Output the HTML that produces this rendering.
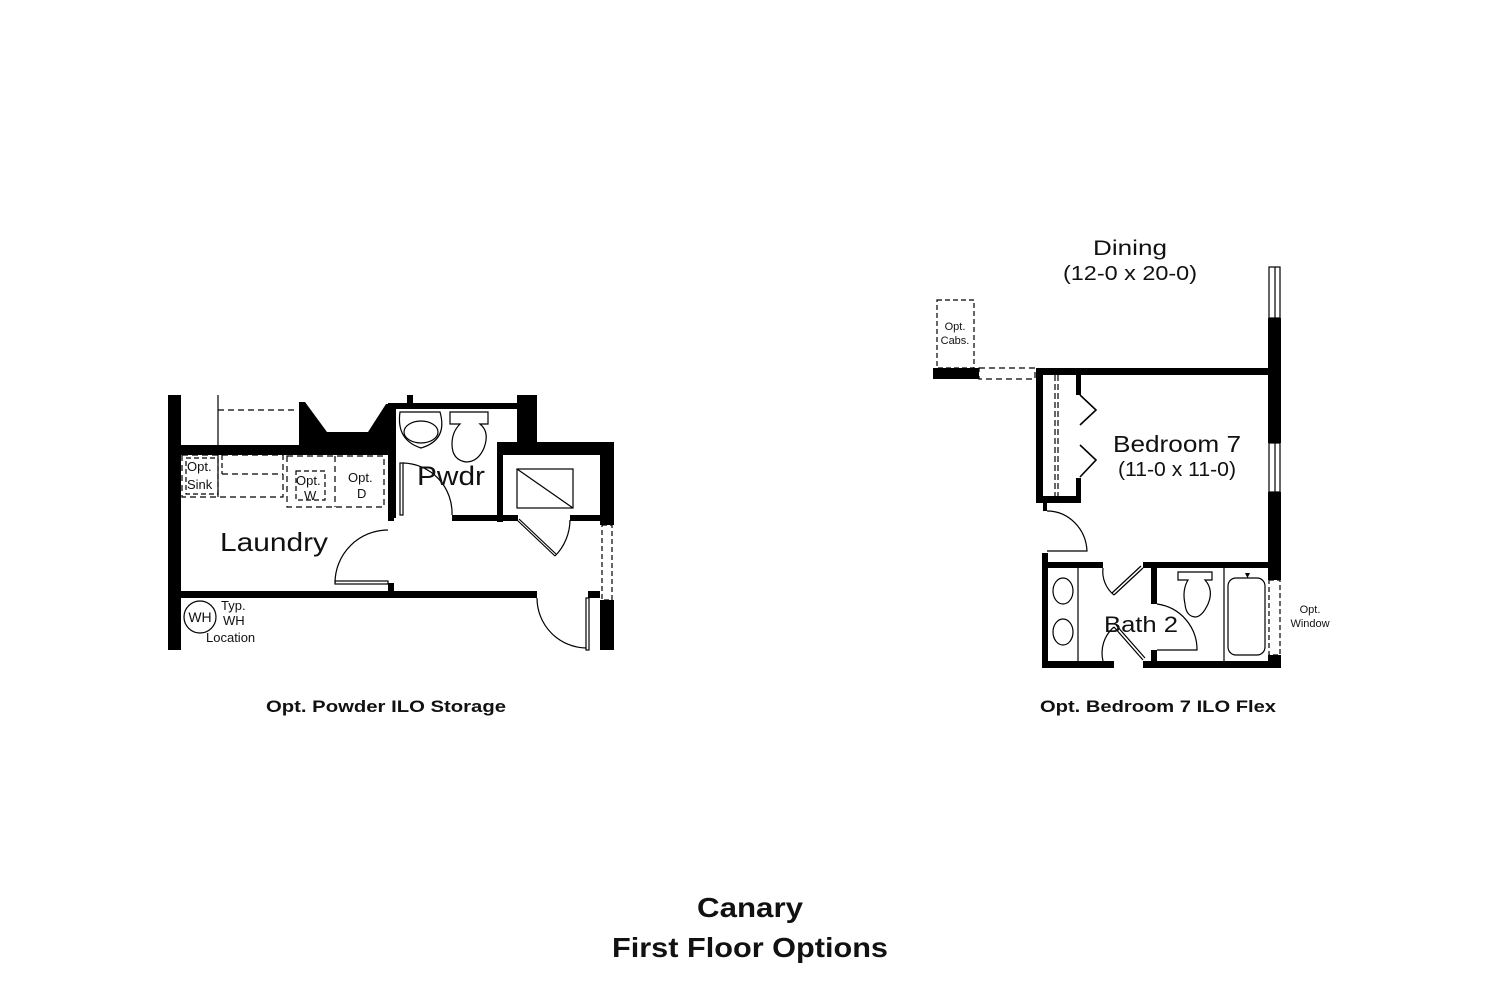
<!DOCTYPE html>
<html><head><meta charset="utf-8"><style>
html,body{margin:0;padding:0;background:#fff}
svg{display:block}
text{font-family:"Liberation Sans",sans-serif;fill:#111}
</style></head><body>
<svg width="1500" height="1000" viewBox="0 0 1500 1000" xmlns="http://www.w3.org/2000/svg">
<rect width="1500" height="1000" fill="#fff"/>
<!-- LEFT PLAN -->
<g fill="#000">
<rect x="168" y="395" width="13" height="255"/>
<rect x="181" y="445" width="120" height="10"/>
<polygon points="299,402 305,402 327,432 368,432 386,404 395,404 395,455 299,455"/>
<rect x="388" y="403" width="8" height="115"/>
<rect x="388" y="403" width="130" height="6"/>
<rect x="407" y="395" width="6" height="10"/>
<rect x="517" y="395" width="20" height="60"/>
<rect x="497" y="442" width="117" height="13"/>
<rect x="497" y="442" width="6" height="80"/>
<rect x="600" y="442" width="14" height="83"/>
<rect x="600" y="600" width="14" height="50"/>
<rect x="452" y="515" width="66" height="6"/>
<rect x="570" y="515" width="30" height="6"/>
<rect x="388" y="515" width="6" height="6"/>
<rect x="388" y="583" width="6" height="10"/>
<rect x="181" y="591" width="356" height="7"/>
<rect x="588" y="591" width="12" height="7"/>
</g>
<g fill="none" stroke="#000" stroke-width="1.2">
<line x1="218" y1="395" x2="218" y2="497"/>
<path d="M218 410 H298" stroke-dasharray="6,4"/>
<rect x="182" y="455" width="101" height="42" stroke-dasharray="6,4"/>
<rect x="186" y="458" width="32" height="36" stroke-dasharray="5,3"/>
<path d="M222 474 H283" stroke-dasharray="6,4"/>
<path d="M222 455 V474" stroke-dasharray="5,3"/>
<rect x="287" y="456" width="97" height="51" stroke-dasharray="6,4"/>
<path d="M335 456 V507" stroke-dasharray="6,4"/>
<rect x="296" y="471" width="29" height="29" stroke-dasharray="5,3"/>
<rect x="602" y="525" width="10" height="75" stroke-dasharray="5,3"/>
<path d="M400 412 H440 Q448 440 421 448 Q396 440 400 412 Z"/>
<ellipse cx="421" cy="432" rx="17" ry="11"/>
<path d="M450 412 H488 V424 H480 Q490 432 484 448 Q478 462 466 462 Q452 460 452 444 Q452 432 460 424 H450 Z"/>
<rect x="400" y="463" width="3" height="52"/>
<path d="M403 463 A50 50 0 0 1 452 515"/>
<rect x="335" y="581" width="53" height="3"/>
<path d="M335 583 A53 53 0 0 1 388 530"/>
<rect x="517" y="469" width="56" height="39"/>
<line x1="517" y1="469" x2="573" y2="508"/>
<path d="M517 520 L555 556 M519 519 L556 554"/>
<path d="M555 556 A52 52 0 0 0 570 520"/>
<rect x="586" y="598" width="3" height="52"/>
<path d="M537 598 A50 50 0 0 0 586 648"/>
<circle cx="200" cy="617" r="16"/>
</g>
<g font-size="13">
<text x="187" y="471">Opt.</text><text x="187" y="489">Sink</text>
<text x="296" y="485">Opt.</text><text x="304" y="500">W</text>
<text x="348" y="482">Opt.</text><text x="357" y="498">D</text>
<text x="200" y="622" text-anchor="middle" font-size="14">WH</text>
<text x="221" y="610">Typ.</text><text x="223" y="625">WH</text><text x="206" y="642">Location</text>
</g>
<text x="274" y="551" font-size="26" text-anchor="middle" textLength="108" lengthAdjust="spacingAndGlyphs">Laundry</text>
<text x="451" y="485" font-size="27" text-anchor="middle" textLength="68" lengthAdjust="spacingAndGlyphs">Pwdr</text>
<text x="386" y="712" font-size="17" font-weight="bold" text-anchor="middle" textLength="240" lengthAdjust="spacingAndGlyphs">Opt. Powder ILO Storage</text>

<!-- RIGHT PLAN -->
<g fill="#000">
<rect x="933" y="368" width="46" height="11"/>
<rect x="1036" y="368" width="245" height="7"/>
<rect x="1268" y="318" width="13" height="125"/>
<rect x="1268" y="492" width="13" height="88"/>
<rect x="1268" y="655" width="13" height="13"/>
<rect x="1036" y="370" width="7" height="133"/>
<rect x="1036" y="496" width="45" height="7"/>
<rect x="1076" y="372" width="5" height="23"/>
<rect x="1076" y="478" width="5" height="24"/>
<rect x="1043" y="503" width="4" height="8"/>
<rect x="1042" y="553" width="6" height="115"/>
<rect x="1042" y="562" width="61" height="6"/>
<rect x="1143" y="562" width="125" height="6"/>
<rect x="1151" y="568" width="6" height="36"/>
<rect x="1151" y="650" width="6" height="12"/>
<rect x="1042" y="661" width="72" height="7"/>
<rect x="1143" y="661" width="125" height="7"/>
</g>
<g fill="none" stroke="#000" stroke-width="1.2">
<rect x="937" y="300" width="37" height="68" stroke-dasharray="5,3"/>
<rect x="979" y="368" width="56" height="11" stroke-dasharray="6,4"/>
<rect x="1269" y="267" width="11" height="51"/><line x1="1275" y1="267" x2="1275" y2="318"/>
<rect x="1269" y="443" width="11" height="49"/><line x1="1275" y1="443" x2="1275" y2="492"/>
<rect x="1269" y="580" width="11" height="75" stroke-dasharray="5,3"/>
<path d="M1055 375 V496 M1058 375 V496" stroke-dasharray="6,3"/>
<path d="M1080 395 L1096 410 L1080 425 M1080 445 L1096 460 L1080 477" stroke-width="1.6"/>
<path d="M1047 511 A40 42 0 0 1 1087 551 H1047"/>
<line x1="1078" y1="568" x2="1078" y2="661"/>
<ellipse cx="1063" cy="591" rx="10" ry="13"/>
<ellipse cx="1063" cy="632" rx="10" ry="13"/>
<path d="M1143 568 L1114 595 M1141 566 L1112 593"/>
<path d="M1103 568 A30 30 0 0 0 1114 595"/>
<path d="M1114 627 L1143 660 M1116 625 L1145 658"/>
<path d="M1114 627 A34 34 0 0 0 1103 661"/>
<path d="M1157 604 A46 46 0 0 1 1197 650 H1157"/>
<path d="M1178 572 H1212 V580 H1205 Q1214 590 1208 604 Q1202 617 1195 617 Q1186 616 1185 604 Q1182 590 1188 580 H1178 Z"/>
<line x1="1224" y1="568" x2="1224" y2="661"/>
<rect x="1228" y="578" width="37" height="77" rx="8"/>
</g>
<polygon points="1245,573 1250,573 1247.5,578" fill="#000"/>
<text x="1130" y="255" font-size="21" text-anchor="middle" textLength="74" lengthAdjust="spacingAndGlyphs">Dining</text>
<text x="1130" y="280" font-size="20" text-anchor="middle" textLength="134" lengthAdjust="spacingAndGlyphs">(12-0 x 20-0)</text>
<text x="1177" y="452" font-size="23" text-anchor="middle" textLength="128" lengthAdjust="spacingAndGlyphs">Bedroom 7</text>
<text x="1177" y="476" font-size="20" text-anchor="middle" textLength="118" lengthAdjust="spacingAndGlyphs">(11-0 x 11-0)</text>
<text x="1141" y="632" font-size="22" text-anchor="middle" textLength="74" lengthAdjust="spacingAndGlyphs">Bath 2</text>
<g font-size="11" text-anchor="middle">
<text x="955" y="330">Opt.</text><text x="955" y="344">Cabs.</text>
<text x="1310" y="613">Opt.</text><text x="1310" y="627">Window</text>
</g>
<text x="1158" y="712" font-size="17" font-weight="bold" text-anchor="middle" textLength="236" lengthAdjust="spacingAndGlyphs">Opt. Bedroom 7 ILO Flex</text>

<text x="750" y="917" font-size="28" font-weight="bold" text-anchor="middle" textLength="106" lengthAdjust="spacingAndGlyphs">Canary</text>
<text x="750" y="957" font-size="28" font-weight="bold" text-anchor="middle" textLength="276" lengthAdjust="spacingAndGlyphs">First Floor Options</text>
</svg>
</body></html>
